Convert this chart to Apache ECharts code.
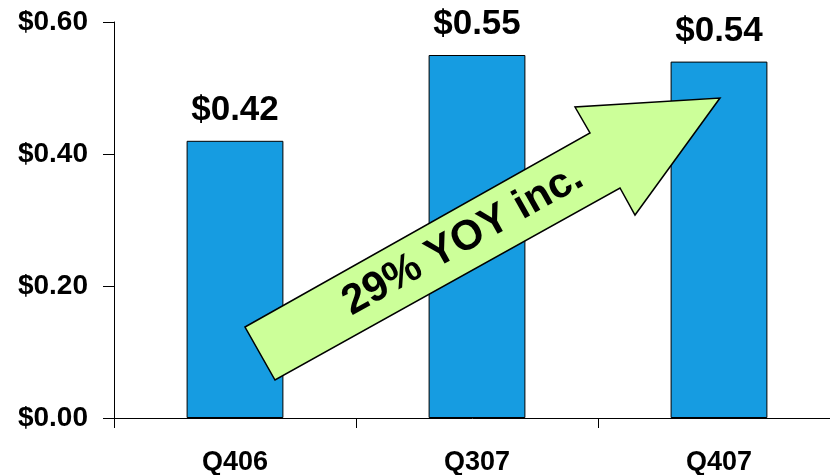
<!DOCTYPE html>
<html><head><meta charset="utf-8">
<script src="https://cdn.jsdelivr.net/npm/echarts@6/dist/echarts.min.js"></script>
<style>html,body{margin:0;padding:0;background:#fff}#c{width:830px;height:475px}</style>
</head><body><div id="c"></div>
<script>
const categories = ['Q406', 'Q307', 'Q407'];
const eps = [0.42, 0.55, 0.54];
const yTicks = [0, 0.2, 0.4, 0.6];
const arrowText = '29% YOY inc.';

const chart = echarts.init(document.getElementById('c'), null, {renderer: 'canvas'});
const F = '"Liberation Sans", Arial, sans-serif';
const arrowPts = [[245, 327], [590, 133], [575, 107], [720, 98], [635, 215], [620, 188], [275, 380]];
chart.setOption({
  animation: false,
  grid: {left: 114, top: 22, width: 726, bottom: 57, containLabel: false, outerBoundsMode: 'none'},
  xAxis: {
    type: 'category', data: categories,
    axisLine: {lineStyle: {color: '#000', width: 1}},
    axisTick: {show: true, length: 10, lineStyle: {color: '#000'}},
    axisLabel: {margin: 31, fontFamily: F, fontWeight: 'bold', fontSize: 27, color: '#000'}
  },
  yAxis: {
    type: 'value', min: yTicks[0], max: yTicks[yTicks.length - 1], interval: 0.2,
    splitLine: {show: false},
    axisLine: {show: true, lineStyle: {color: '#000', width: 1}},
    axisTick: {show: true, length: 11, lineStyle: {color: '#000'}},
    axisLabel: {margin: 26, fontFamily: F, fontWeight: 'bold', fontSize: 28, color: '#000',
      formatter: v => '$' + v.toFixed(2)}
  },
  series: [{
    type: 'bar', data: eps, barWidth: '40%',
    itemStyle: {color: '#169CE1', borderColor: '#000', borderWidth: 1},
    label: {show: true, position: 'top', distance: 13, fontFamily: F, fontWeight: 'bold',
      fontSize: 35, color: '#000', formatter: p => '$' + p.value.toFixed(2)}
  }],
  graphic: [{
    type: 'polygon', z: 100,
    shape: {points: arrowPts},
    style: {fill: '#CCFF99', stroke: '#000', lineWidth: 1.5}
  }, {
    type: 'text', z: 101, x: 463, y: 240, rotation: 29.3 * Math.PI / 180,
    style: {text: arrowText, fontFamily: F, fontWeight: 'bold', fontSize: 42, fill: '#000',
      align: 'center', verticalAlign: 'middle'}
  }]
});
</script></body></html>
